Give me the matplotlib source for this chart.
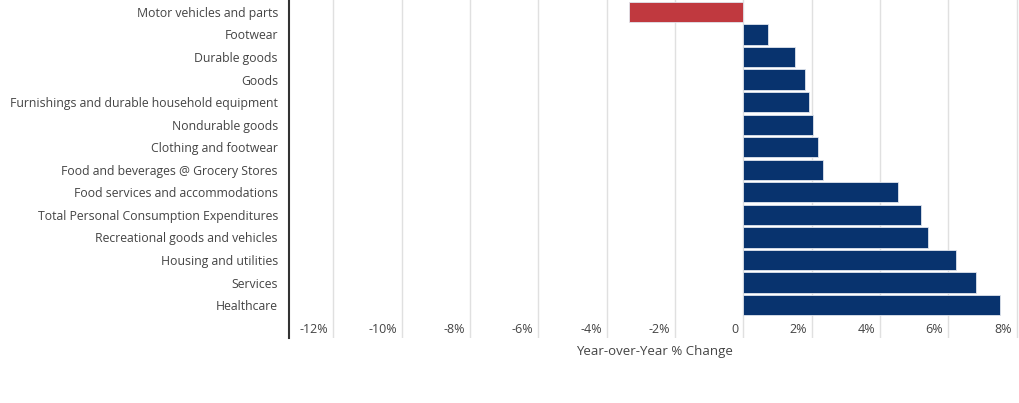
import matplotlib.pyplot as plt
from matplotlib.transforms import ScaledTranslation

# data, top to bottom
categories = ['Motor vehicles and parts', 'Footwear', 'Durable goods', 'Goods',
              'Furnishings and durable household equipment', 'Nondurable goods',
              'Clothing and footwear', 'Food and beverages @ Grocery Stores',
              'Food services and accommodations', 'Total Personal Consumption Expenditures',
              'Recreational goods and vehicles', 'Housing and utilities', 'Services',
              'Healthcare']
values = [-3.35, 0.72, 1.52, 1.82, 1.92, 2.03, 2.2, 2.34, 4.52, 5.21, 5.42, 6.22, 6.82, 7.52]
ticks = [-12, -10, -8, -6, -4, -2, 0, 2, 4, 6, 8]
tick_labels = ['-12%', '-10%', '-8%', '-6%', '-4%', '-2%', '0', '2%', '4%', '6%', '8%']

red = '#c0393f'
blue = '#08336e'
plt.rcParams['font.family'] = ['Open Sans', 'DejaVu Sans']

fig = plt.figure(figsize=(10.2, 4.03), dpi=100)
ax = fig.add_axes([289 / 1020, 1 - 338 / 403, 1 - 289 / 1020, 338 / 403])

pos = list(range(len(categories)))
colors = [red if v < 0 else blue for v in values]
ax.barh(pos, values, height=0.9, color=colors, edgecolor='#dfe4ec', linewidth=0.6, zorder=3)

ax.set_xlim(-13.3, 8.1)
ax.set_ylim(len(categories) - 1 + 1.46, -0.53)
ax.set_yticks(pos)
ax.set_yticklabels(categories, fontsize=8.8, color='#444444')
ax.set_xticks(ticks)
ax.set_xticklabels(tick_labels, fontsize=9, color='#444444', ha='right')
ax.tick_params(axis='y', length=0, pad=8)
ax.tick_params(axis='x', length=0, pad=0)
shift = ScaledTranslation(-0.05, 0.15, fig.dpi_scale_trans)
for lab in ax.get_xticklabels():
    lab.set_transform(lab.get_transform() + shift)

ax.grid(axis='x', color='#e0e0e0', linewidth=1, zorder=0)
for s in ['top', 'right', 'bottom']:
    ax.spines[s].set_visible(False)
ax.spines['left'].set_color('#333333')
ax.spines['left'].set_linewidth(1.5)

ax.set_xlabel('Year-over-Year % Change', fontsize=9.5, color='#444444')
ax.xaxis.set_label_coords(0.5, -0.022)

fig.savefig('out.png', dpi=100)
